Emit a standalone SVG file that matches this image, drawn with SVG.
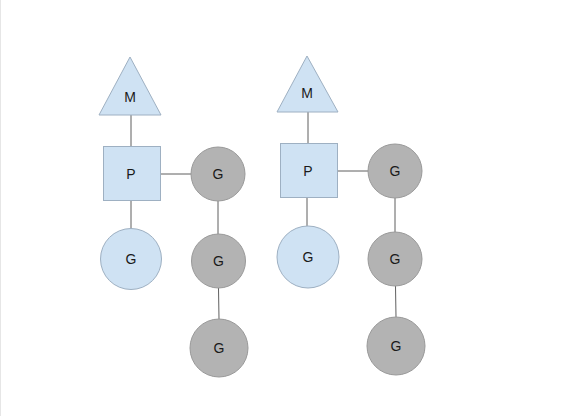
<svg xmlns="http://www.w3.org/2000/svg" width="574" height="416" viewBox="0 0 574 416">
<style>
.bl{fill:#cfe2f3;stroke:#9eb0c2;stroke-width:1}
.gr{fill:#b3b3b3;stroke:#999999;stroke-width:1}
.ln{stroke:#5f5f5f;stroke-width:1;fill:none}
text{font-family:"Liberation Sans",Arial,sans-serif;font-size:14px;fill:#1a1a1a;text-anchor:middle;dominant-baseline:central}
</style>
<rect width="574" height="416" fill="#ffffff"/>
<line x1="0.5" y1="0" x2="0.5" y2="416" stroke="#e6e6e6"/>
<g id="connectors">
<line class="ln" x1="131" y1="115" x2="131" y2="146"/>
<line class="ln" x1="161" y1="174" x2="191" y2="174"/>
<line class="ln" x1="131" y1="200" x2="131" y2="229"/>
<line class="ln" x1="218" y1="201" x2="218" y2="234"/>
<line class="ln" x1="218.5" y1="288" x2="219" y2="319"/>
<line class="ln" x1="308" y1="112" x2="308" y2="143"/>
<line class="ln" x1="338" y1="171" x2="368" y2="171"/>
<line class="ln" x1="307" y1="198" x2="307" y2="226"/>
<line class="ln" x1="395" y1="198" x2="395" y2="232"/>
<line class="ln" x1="395.5" y1="286" x2="396" y2="317"/>
</g>
<g id="m1"><polygon class="bl" points="130,57 99,115 161,115"/><text x="130" y="97">M</text></g>
<g id="p1"><rect class="bl" x="103.5" y="146.5" width="57" height="54"/><text x="131" y="174">P</text></g>
<g id="g1"><circle class="bl" cx="131" cy="259" r="30.5"/><text x="131" y="259">G</text></g>
<g id="g2"><circle class="gr" cx="218" cy="174" r="27"/><text x="218" y="174">G</text></g>
<g id="g3"><circle class="gr" cx="218.5" cy="261" r="27"/><text x="218.5" y="261">G</text></g>
<g id="g4"><circle class="gr" cx="219" cy="348" r="29"/><text x="219" y="348">G</text></g>
<g id="m2"><polygon class="bl" points="307,56 277,112 338,112"/><text x="307" y="93">M</text></g>
<g id="p2"><rect class="bl" x="280.5" y="143.5" width="57" height="54"/><text x="308" y="171">P</text></g>
<g id="g5"><circle class="bl" cx="308" cy="257" r="31"/><text x="308" y="257">G</text></g>
<g id="g6"><circle class="gr" cx="395" cy="171" r="27"/><text x="395" y="171">G</text></g>
<g id="g7"><circle class="gr" cx="395" cy="259" r="27"/><text x="395" y="259">G</text></g>
<g id="g8"><circle class="gr" cx="396" cy="346" r="29"/><text x="396" y="346">G</text></g>
</svg>
